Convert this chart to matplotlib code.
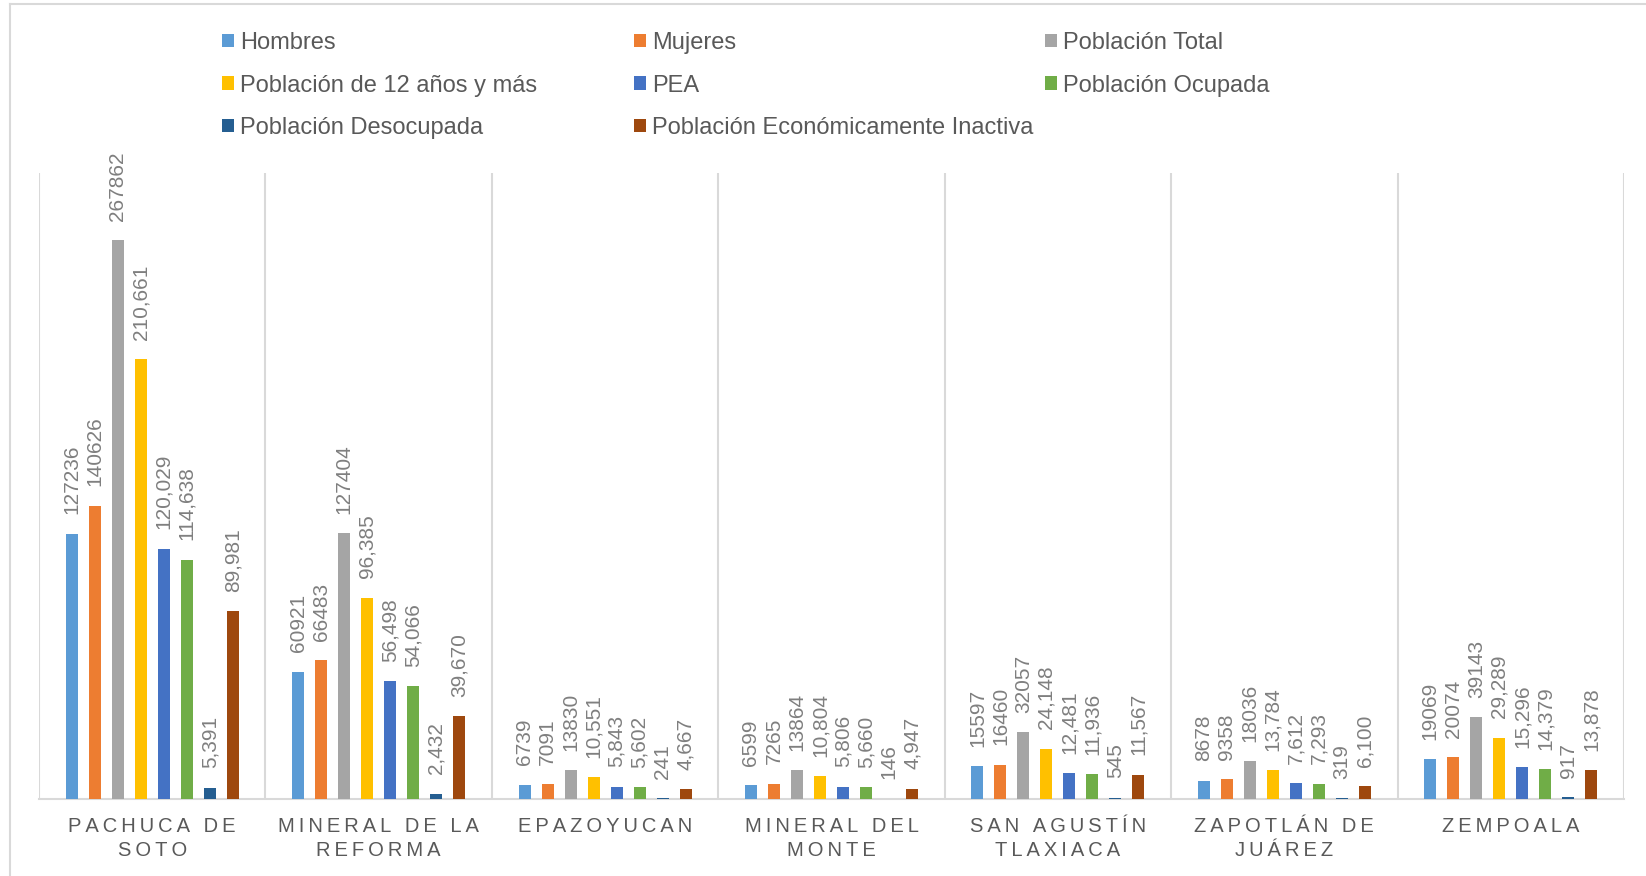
import matplotlib
matplotlib.use("Agg")
import matplotlib.pyplot as plt
import numpy as np
from matplotlib.patches import Patch
from matplotlib.lines import Line2D

plt.rcParams['font.family'] = ['Liberation Sans', 'DejaVu Sans']

categories = ["PACHUCA DE\nSOTO", "MINERAL DE LA\nREFORMA", "EPAZOYUCAN",
              "MINERAL DEL\nMONTE", "SAN AGUSTÍN\nTLAXIACA", "ZAPOTLÁN DE\nJUÁREZ",
              "ZEMPOALA"]
series_names = ["Hombres", "Mujeres", "Población Total", "Población de 12 años y más",
                "PEA", "Población Ocupada", "Población Desocupada",
                "Población Económicamente Inactiva"]
colors = ["#5B9BD5", "#ED7D31", "#A5A5A5", "#FFC000", "#4472C4", "#70AD47",
          "#255E91", "#9E480E"]

hombres = [127236, 60921, 6739, 6599, 15597, 8678, 19069]
mujeres = [140626, 66483, 7091, 7265, 16460, 9358, 20074]
poblacion_total = [267862, 127404, 13830, 13864, 32057, 18036, 39143]
poblacion_12 = [210661, 96385, 10551, 10804, 24148, 13784, 29289]
pea = [120029, 56498, 5843, 5806, 12481, 7612, 15296]
ocupada = [114638, 54066, 5602, 5660, 11936, 7293, 14379]
desocupada = [5391, 2432, 241, 146, 545, 319, 917]
inactiva = [89981, 39670, 4667, 4947, 11567, 6100, 13878]
series = [hombres, mujeres, poblacion_total, poblacion_12, pea, ocupada,
          desocupada, inactiva]
use_comma = [False, False, False, True, True, True, True, True]

W, H = 1646, 876
fig = plt.figure(figsize=(W / 100, H / 100), dpi=100)
fig.patch.set_facecolor("white")

ax_l, ax_r, ax_t, ax_b = 39, 1624, 173, 799
ax = fig.add_axes([ax_l / W, (H - ax_b) / H, (ax_r - ax_l) / W, (ax_b - ax_t) / H])

grid_col = "#D9D9D9"
x = np.arange(len(categories))
step = 0.1016
bw = 0.053
for i, (vals, col) in enumerate(zip(series, colors)):
    xs = x + (i - 3.5) * step
    ax.bar(xs, vals, width=bw, color=col, zorder=3)
    for xi, v in zip(xs, vals):
        txt = f"{v:,}" if use_comma[i] else f"{v}"
        ax.annotate(txt, (xi, v), xytext=(0, 14), textcoords="offset points",
                    rotation=90, ha="center", va="bottom", fontsize=15,
                    color="#7F7F7F")

ax.set_xlim(-0.5, len(categories) - 0.5)
ax.set_ylim(0, 300000)
ax.vlines(np.arange(len(categories) + 1) - 0.5, 0, 300000, color=grid_col, lw=1.5, zorder=1)
for s in ["top", "left", "right"]:
    ax.spines[s].set_visible(False)
ax.spines["bottom"].set_color(grid_col)
ax.spines["bottom"].set_linewidth(1.5)
ax.set_yticks([])


def spaced(s):
    return "\n".join("\u2009".join(list(line)) for line in s.split("\n"))


ax.set_xticks(x)
ax.set_xticklabels([spaced(c) for c in categories], fontsize=14.5, color="#595959",
                   linespacing=1.35)
ax.tick_params(axis="x", length=0, pad=13)

# legend in three columns
col_x = [222, 634, 1045]
col_members = [[0, 3, 6], [1, 4, 7], [2, 5]]
for cx, members in zip(col_x, col_members):
    handles = [Patch(facecolor=colors[m], edgecolor="none") for m in members]
    labels = [series_names[m] for m in members]
    fig.legend(handles, labels, loc="upper left",
               bbox_to_anchor=(cx / W, 1 - 32 / H), frameon=False, fontsize=17,
               handlelength=0.5, handleheight=0.5, handletextpad=0.25,
               labelspacing=0.87, borderpad=0, borderaxespad=0,
               labelcolor="#595959")

# chart area border (top and left visible)
fig.add_artist(Line2D([10 / W, 1], [1 - 4 / H, 1 - 4 / H], color=grid_col, lw=1.5,
                      transform=fig.transFigure))
fig.add_artist(Line2D([10 / W, 10 / W], [0, 1 - 4 / H], color=grid_col, lw=1.5,
                      transform=fig.transFigure))

fig.savefig("out.png", dpi=100)
